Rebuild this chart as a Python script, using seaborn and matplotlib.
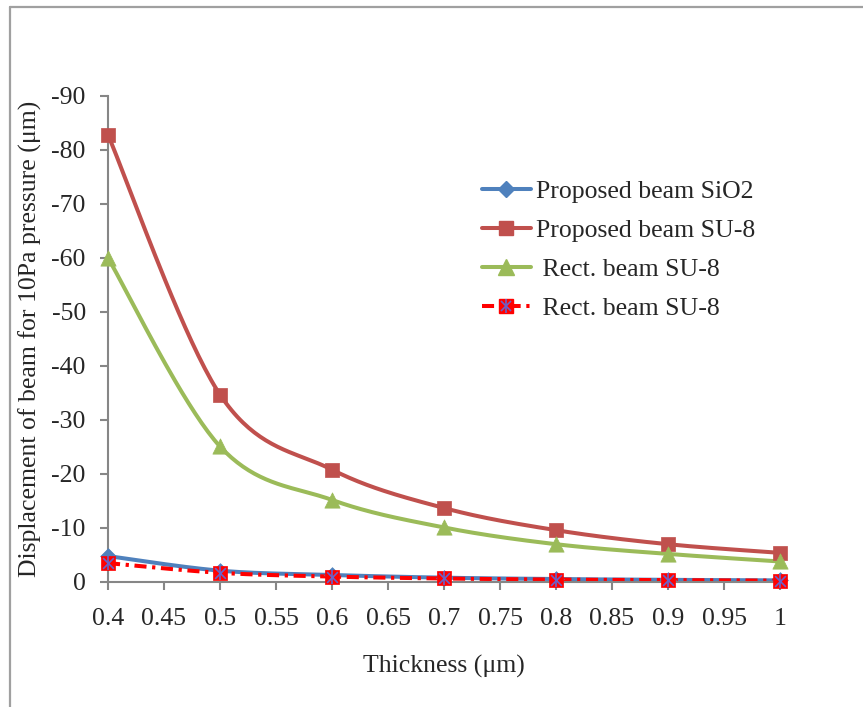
import numpy as np
import pandas as pd
import seaborn as sns
import matplotlib.pyplot as plt
from matplotlib.lines import Line2D

# Beam displacement under 10 Pa pressure versus layer thickness
thickness = [0.4, 0.5, 0.6, 0.7, 0.8, 0.9, 1.0]
proposed_sio2 = [-4.8, -2.1, -1.3, -0.8, -0.55, -0.4, -0.3]
proposed_su8 = [-82.8, -34.7, -20.8, -13.7, -9.6, -7.0, -5.4]
rect_su8 = [-60.0, -25.1, -15.2, -10.1, -7.0, -5.2, -3.8]
rect_su8_b = [-3.5, -1.7, -1.0, -0.65, -0.45, -0.35, -0.25]

labels = ["Proposed beam SiO2", "Proposed beam SU-8",
          " Rect. beam SU-8", " Rect. beam SU-8"]
x_ticks = [0.4, 0.45, 0.5, 0.55, 0.6, 0.65, 0.7, 0.75, 0.8, 0.85, 0.9, 0.95, 1.0]
x_tick_labels = ["0.4", "0.45", "0.5", "0.55", "0.6", "0.65", "0.7",
                 "0.75", "0.8", "0.85", "0.9", "0.95", "1"]
y_ticks = [0, -10, -20, -30, -40, -50, -60, -70, -80, -90]

sns.set_theme(style="white")
plt.rcParams["font.family"] = ["Liberation Serif", "DejaVu Serif"]
plt.rcParams["axes.unicode_minus"] = False

FS = 18.5


def smooth(x, y, n=40):
    """Bezier smoothing through every point (Catmull-Rom style control points)."""
    p = np.column_stack([x, y]).astype(float)
    pts = np.vstack([p[0], p, p[-1]])
    t = np.linspace(0, 1, n)[:, None]
    out = []
    for i in range(1, len(pts) - 2):
        p0, p1, p2, p3 = pts[i - 1], pts[i], pts[i + 1], pts[i + 2]
        b1 = p1 + (p2 - p0) / 6.0
        b2 = p2 - (p3 - p1) / 6.0
        seg = ((1 - t) ** 3) * p1 + 3 * ((1 - t) ** 2) * t * b1 \
            + 3 * (1 - t) * t ** 2 * b2 + t ** 3 * p2
        out.append(seg if i == 1 else seg[1:])
    s = np.vstack(out)
    return pd.DataFrame({"thickness": s[:, 0], "disp": s[:, 1]})


fig = plt.figure(figsize=(8.63, 7.07), dpi=100)
ax = fig.add_axes([108 / 863, 1 - 582 / 707, 672 / 863, 486 / 707])

blue, red, green, bright = "#4F81BD", "#C0504D", "#9BBB59", "#FF0000"
star = "#6A62C8"
dashdot = (0, (3, 1.4, 0.8, 1.4))

series = [
    (proposed_sio2, blue, "-", "D", 8),
    (proposed_su8, red, "-", "s", 10.5),
    (rect_su8, green, "-", "^", 11),
    (rect_su8_b, bright, dashdot, "s", 10),
]

# smooth curves first, markers above them
for vals, col, ls, mk, ms in series:
    sns.lineplot(data=smooth(thickness, vals), x="thickness", y="disp",
                 sort=False, estimator=None, color=col, linewidth=2.9,
                 linestyle=ls, ax=ax)

pts = lambda v: pd.DataFrame({"thickness": thickness, "disp": v})
for vals, col, ls, mk, ms in series:
    sns.scatterplot(data=pts(vals), x="thickness", y="disp", marker=mk,
                    s=ms ** 2, color=col, edgecolor=col, linewidth=0.5,
                    ax=ax, zorder=5)
sns.scatterplot(data=pts(rect_su8_b), x="thickness", y="disp", marker="x",
                s=60, color=star, linewidth=1.2, ax=ax, zorder=6)
sns.scatterplot(data=pts(rect_su8_b), x="thickness", y="disp", marker="|",
                s=110, color=star, linewidth=1.2, ax=ax, zorder=6)

ax.set_xlim(0.4, 1.0)
ax.set_ylim(0, -90)
ax.set_xticks(x_ticks)
ax.set_xticklabels(x_tick_labels)
ax.set_yticks(y_ticks)
ax.set_yticklabels([str(v) for v in y_ticks])
ax.set_xlabel("Thickness (μm)", fontsize=FS, labelpad=18)
ax.set_ylabel("Displacement of beam for 10Pa pressure (μm)", fontsize=FS,
              labelpad=7)

for side in ("top", "right"):
    ax.spines[side].set_visible(False)
for side in ("left", "bottom"):
    ax.spines[side].set_color("#868686")
    ax.spines[side].set_linewidth(1.5)
ax.tick_params(axis="both", which="major", direction="out", length=6,
               width=1.5, color="#868686", labelsize=FS, pad=10,
               bottom=True, left=True)
ax.tick_params(axis="x", pad=13)
for coll in ax.collections:
    coll.set_clip_on(False)
for ln in ax.lines:
    ln.set_clip_on(False)

# legend entries: line with marker
handles = [
    Line2D([], [], color=blue, lw=2.9, marker="D", ms=8),
    Line2D([], [], color=red, lw=2.9, marker="s", ms=10.5),
    Line2D([], [], color=green, lw=2.9, marker="^", ms=11),
    (Line2D([], [], color=bright, lw=2.9, linestyle=dashdot, marker="s", ms=10),
     Line2D([], [], color=star, lw=0, marker="x", ms=7.5, mew=1.2),
     Line2D([], [], color=star, lw=0, marker="|", ms=10, mew=1.2)),
]
fig.legend(handles, labels, loc="upper left",
           bbox_to_anchor=(482 / 863, 1 - 180 / 707), frameon=False,
           fontsize=FS, handlelength=1.9, handletextpad=0.2,
           labelspacing=0.62, borderpad=0, borderaxespad=0)

# outer chart-area border (top and left edges)
fig.add_artist(Line2D([10 / 863, 1.0], [1 - 7 / 707, 1 - 7 / 707],
                      transform=fig.transFigure, color="#A0A0A0", lw=1.6))
fig.add_artist(Line2D([10 / 863, 10 / 863], [0, 1 - 7 / 707],
                      transform=fig.transFigure, color="#A0A0A0", lw=1.6))

fig.savefig("out.png", dpi=100, facecolor="white")
